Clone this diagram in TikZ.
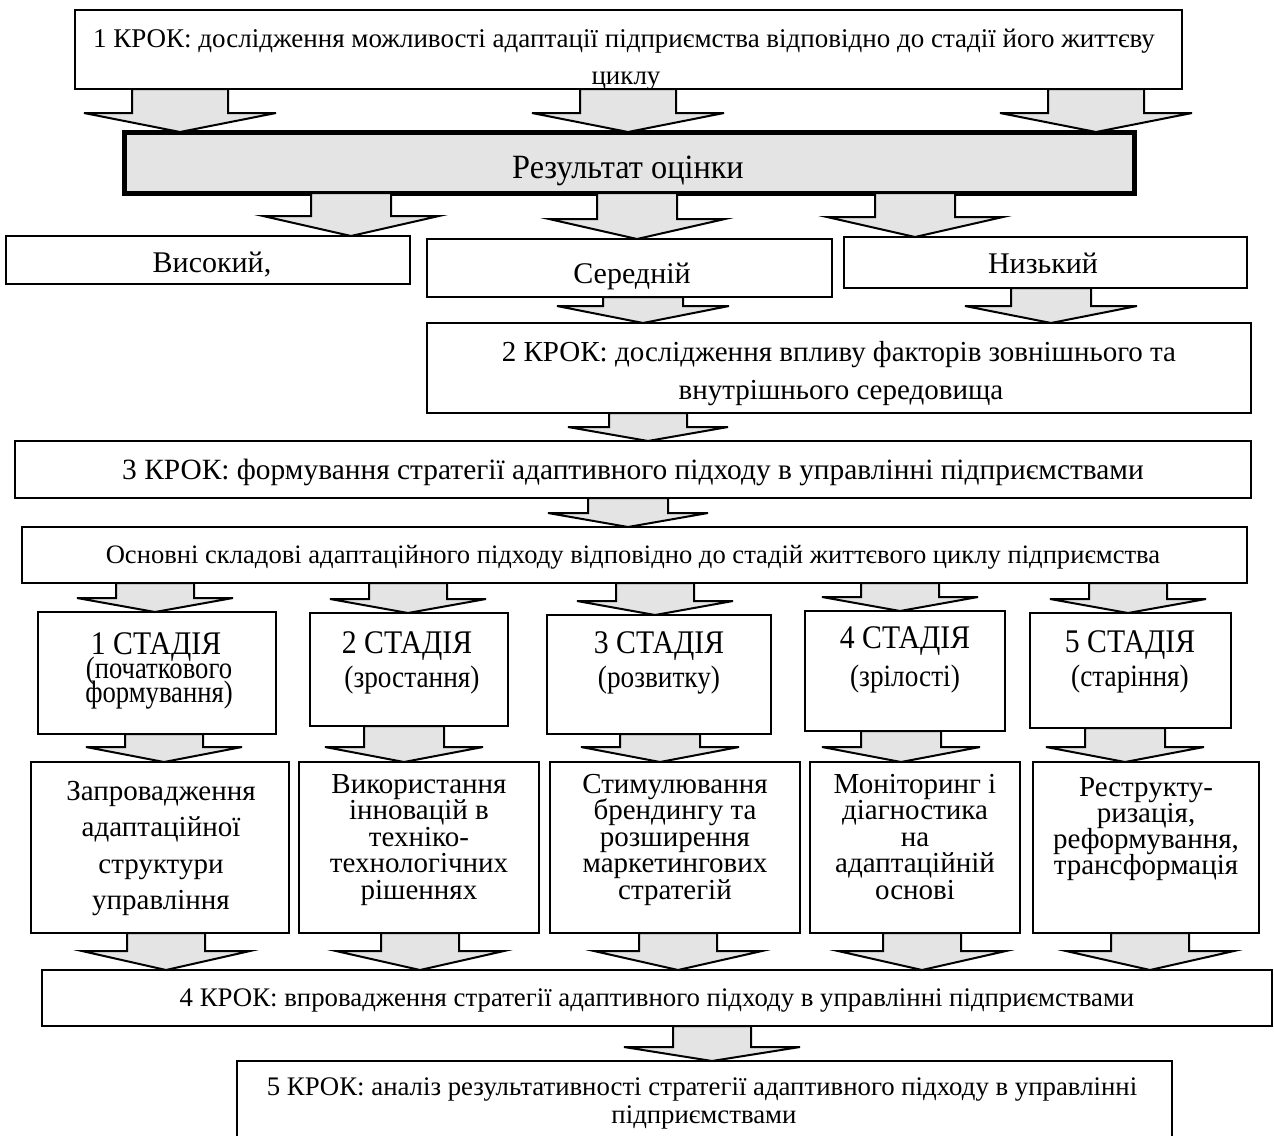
\documentclass[tikz,border=0pt]{standalone}
\usepackage{graphicx}
\usepackage{fontspec}
\setmainfont{Liberation Serif}
\usetikzlibrary{calc}
\definecolor{lgray}{HTML}{E4E4E4}
\tikzset{
  bx/.style={draw=black, line width=2pt, fill=white, inner sep=0pt, outer sep=0pt},
  arr/.style={draw=black, line width=2pt, fill=lgray, line join=miter},
  tx/.style={anchor=base, inner sep=0pt, outer sep=0pt},
}
% box: [style] name x1 y1 x2 y2 (pixels, y downwards)
\newcommand\mkbox[6][]{%
  \node[bx,#1,minimum width={(#5-#3)*1pt},minimum height={(#6-#4)*1pt}] (#2) at ({(#3+#5)/2},{(#4+#6)/2}) {};}
% text line: name x baseline size text
\newcommand\tline[5]{\node[tx,font=\fontsize{#4}{#4}\selectfont] (#1) at (#2,#3) {#5};}
% condensed text line: name x baseline size hscale text
\newcommand\cndline[6]{\node[tx,font=\fontsize{#4}{#4}\selectfont] (#1) at (#2,#3) {\scalebox{#5}[1]{#6}};}
% block arrow: x from to shafthalf headhalf headlength
\newcommand\barr[6]{%
  \draw[arr] let \p1=(#1,0 |- #2.south), \p2=(#1,0 |- #3.north) in
    (\x1-#4pt,\y1) -- (\x1-#4pt,\y2+#6pt) -- (\x1-#5pt,\y2+#6pt) -- (\x1,\y2)
    -- (\x1+#5pt,\y2+#6pt) -- (\x1+#4pt,\y2+#6pt) -- (\x1+#4pt,\y1) -- cycle;}
\begin{document}
\begin{tikzpicture}[x=1pt,y=-1pt]
\useasboundingbox (0,0) rectangle (1274,1135);
\clip (0,0) rectangle (1274,1135);
% boxes
\mkbox{k1}{75}{10}{1182}{89}
\mkbox[line width=5pt,fill=lgray]{res}{124}{132}{1134}{193}
\mkbox{vys}{6}{236}{410}{284}
\mkbox{ser}{427}{239}{832}{297}
\mkbox{niz}{844}{237}{1247}{288}
\mkbox{k2}{427}{323}{1251}{413}
\mkbox{k3}{15}{441}{1251}{498}
\mkbox{osn}{22}{527}{1247}{583}
\mkbox{s1}{38}{612}{276}{734}
\mkbox{s2}{310}{613}{508}{726}
\mkbox{s3}{547}{615}{771}{734}
\mkbox{s4}{805}{611}{1005}{731}
\mkbox{s5}{1030}{613}{1231}{728}
\mkbox{b1}{31}{762}{289}{933}
\mkbox{b2}{299}{762}{539}{933}
\mkbox{b3}{550}{762}{800}{933}
\mkbox{b4}{810}{762}{1020}{933}
\mkbox{b5}{1033}{762}{1259}{933}
\mkbox{k4}{42}{970}{1272}{1026}
\mkbox{k5}{237}{1061}{1172}{1150}
% arrows
\barr{180}{k1}{res}{48}{96}{19}
\barr{628}{k1}{res}{48}{96}{19}
\barr{1096}{k1}{res}{48}{96}{19}
\barr{351}{res}{vys}{40}{88}{20}
\barr{637}{res}{ser}{40}{88}{20}
\barr{915}{res}{niz}{40}{88}{20}
\barr{643}{ser}{k2}{40}{86}{17}
\barr{1051}{niz}{k2}{40}{86}{17}
\barr{648}{k2}{k3}{39}{80}{14}
\barr{628}{k3}{osn}{40}{80}{14}
\barr{155}{osn}{s1}{39}{78}{14}
\barr{408}{osn}{s2}{39}{78}{14}
\barr{655}{osn}{s3}{39}{78}{14}
\barr{900}{osn}{s4}{39}{78}{14}
\barr{1128}{osn}{s5}{39}{78}{14}
\barr{164}{s1}{b1}{39}{78}{15}
\barr{404}{s2}{b2}{40}{79}{15}
\barr{660}{s3}{b3}{40}{79}{15}
\barr{901}{s4}{b4}{40}{79}{15}
\barr{1125}{s5}{b5}{40}{79}{15}
\barr{166}{b1}{k4}{39}{84}{19}
\barr{420}{b2}{k4}{39}{84}{19}
\barr{678}{b3}{k4}{39}{84}{19}
\barr{922}{b4}{k4}{39}{84}{19}
\barr{1150}{b5}{k4}{39}{84}{19}
\barr{712}{k4}{k5}{39}{88}{14}
% texts
\tline{k1a}{624}{47}{27}{1 КРОК: дослідження можливості адаптації підприємства відповідно до стадії його життєву}
\tline{k1b}{626}{84}{27}{циклу}
\cndline{rest}{628}{178}{34}{0.95}{Результат оцінки}
\tline{vyst}{212}{272}{30}{Високий,}
\tline{sert}{632}{283}{30}{Середній}
\tline{nizt}{1043}{273}{30}{Низький}
\tline{k2a}{839}{361}{29}{2 КРОК: дослідження впливу факторів зовнішнього та}
\tline{k2b}{841}{399}{29}{внутрішнього середовища}
\tline{k3t}{633}{479}{29.4}{3 КРОК: формування стратегії адаптивного підходу в управлінні підприємствами}
\tline{osnt}{633}{563}{26.6}{Основні складові адаптаційного підходу відповідно до стадій життєвого циклу підприємства}
% stages
\cndline{s1a}{156}{654}{33}{0.9}{1 СТАДІЯ}
\cndline{s1b}{159}{678}{31}{0.86}{(початкового}
\cndline{s1c}{159}{702}{31}{0.86}{формування)}
\cndline{s2a}{407}{653}{33}{0.9}{2 СТАДІЯ}
\cndline{s2b}{412}{687}{31}{0.88}{(зростання)}
\cndline{s3a}{659}{653}{33}{0.9}{3 СТАДІЯ}
\cndline{s3b}{659}{687}{31}{0.88}{(розвитку)}
\cndline{s4a}{905}{648}{33}{0.9}{4 СТАДІЯ}
\cndline{s4b}{905}{686}{31}{0.88}{(зрілості)}
\cndline{s5a}{1130}{652}{33}{0.9}{5 СТАДІЯ}
\cndline{s5b}{1130}{686}{31}{0.88}{(старіння)}
% bottom boxes
\tline{b1a}{161}{800}{29}{Запровадження}
\tline{b1b}{161}{836.5}{29}{адаптаційної}
\tline{b1c}{161}{873}{29}{структури}
\tline{b1d}{161}{909.5}{29}{управління}
\tline{b2a}{419}{793}{29}{Використання}
\tline{b2b}{419}{819.5}{29}{інновацій в}
\tline{b2c}{419}{846}{29}{техніко-}
\tline{b2d}{419}{872.5}{29}{технологічних}
\tline{b2e}{419}{899}{29}{рішеннях}
\tline{b3a}{675}{793}{29}{Стимулювання}
\tline{b3b}{675}{819.5}{29}{брендингу та}
\tline{b3c}{675}{846}{29}{розширення}
\tline{b3d}{675}{872.5}{29}{маркетингових}
\tline{b3e}{675}{899}{29}{стратегій}
\tline{b4a}{915}{793}{29}{Моніторинг і}
\tline{b4b}{915}{819.5}{29}{діагностика}
\tline{b4c}{915}{846}{29}{на}
\tline{b4d}{915}{872.5}{29}{адаптаційній}
\tline{b4e}{915}{899}{29}{основі}
\tline{b5a}{1146}{796}{29}{Реструкту-}
\tline{b5b}{1146}{822}{29}{ризація,}
\tline{b5c}{1146}{848}{29}{реформування,}
\tline{b5d}{1146}{874}{29}{трансформація}
% steps 4 and 5
\tline{k4t}{657}{1006}{26.8}{4 КРОК: впровадження стратегії адаптивного підходу в управлінні підприємствами}
\tline{k5a}{702}{1095}{26.8}{5 КРОК: аналіз результативності стратегії адаптивного підходу в управлінні}
\tline{k5b}{704}{1123}{26.8}{підприємствами}
\end{tikzpicture}
\end{document}
